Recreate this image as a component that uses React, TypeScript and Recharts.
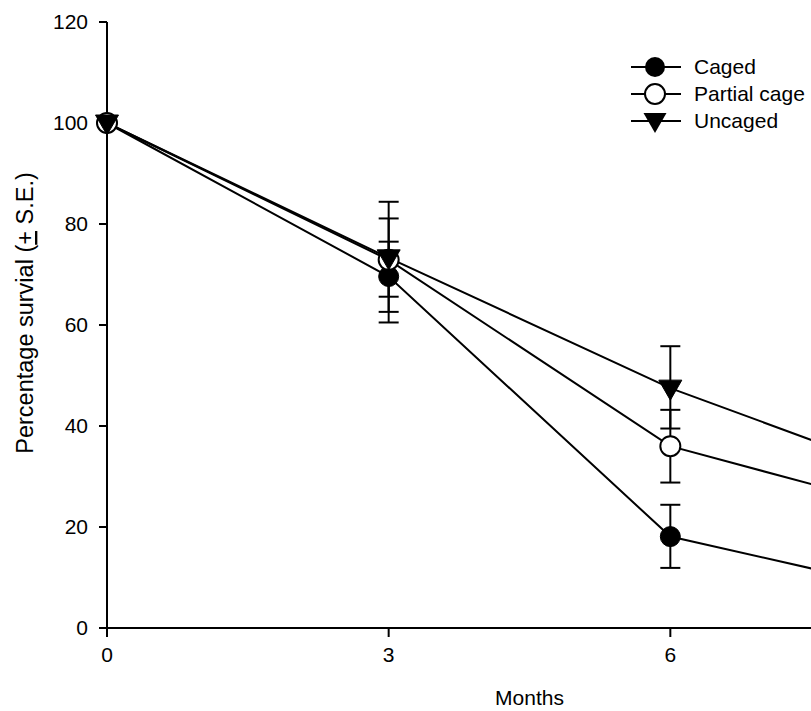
import { LineChart, Line, XAxis, YAxis, ErrorBar } from "recharts";

const months = [0, 3, 6, 9];
const monthTicks = [0, 3, 6];
const survivalTicks = [0, 20, 40, 60, 80, 100, 120];

const caged = [100, 69.6, 18.1, 5.5];
const partialCage = [100, 72.9, 36, 21];
const uncaged = [100, 73.3, 47.5, 27];

// [below, above] standard errors, null where no bar is drawn
const cagedErr = [null, [9.1, 6.9], [6.2, 6.3], [4, 4]];
const partialErr = [null, [7.3, 8.2], [7.2, 7.2], [6, 6]];
const uncagedErr = [null, [10.7, 11.1], [8.0, 8.3], [7, 7]];

const data = months.map((m, i) => ({
  month: m,
  caged: caged[i],
  partial: partialCage[i],
  uncaged: uncaged[i],
  cagedErr: cagedErr[i],
  partialErr: partialErr[i],
  uncagedErr: uncagedErr[i],
}));

const FONT = "Arial, 'Liberation Sans', sans-serif";

const FilledDot = (props: any) => {
  const { cx, cy, index } = props;
  return <circle key={`c-${index}`} cx={cx} cy={cy} r={10} fill="#000" stroke="#000" strokeWidth={1} />;
};

const OpenDot = (props: any) => {
  const { cx, cy, index } = props;
  return <circle key={`p-${index}`} cx={cx} cy={cy} r={10} fill="#fff" stroke="#000" strokeWidth={2} />;
};

const TriangleDot = (props: any) => {
  const { cx, cy, index } = props;
  const pts = `${cx - 11.5},${cy - 8} ${cx + 11.5},${cy - 8} ${cx},${cy + 12}`;
  return <polygon key={`u-${index}`} points={pts} fill="#000" stroke="#000" strokeWidth={1} />;
};

const legendItems = [
  { label: "Caged", kind: "filled" },
  { label: "Partial cage", kind: "open" },
  { label: "Uncaged", kind: "tri" },
];

// legend drawn as an overlay so it does not take space from the plot
const ChartLegend = () => (
  <svg width={180} height={84} style={{ position: "absolute", left: 631, top: 54 }}>
    {legendItems.map((it, i) => {
      const y = 13 + i * 27;
      const cx = 24;
      return (
        <g key={it.label}>
          <line x1={0} y1={y} x2={50} y2={y} stroke="#000" strokeWidth={2} />
          {it.kind === "filled" && <circle cx={cx} cy={y} r={10} fill="#000" />}
          {it.kind === "open" && (
            <circle cx={cx} cy={y} r={10} fill="#fff" stroke="#000" strokeWidth={2} />
          )}
          {it.kind === "tri" && (
            <polygon
              points={`${cx - 11.5},${y - 8} ${cx + 11.5},${y - 8} ${cx},${y + 12}`}
              fill="#000"
            />
          )}
          <text x={63} y={y + 7} fontSize={21} fontFamily={FONT} fill="#000">
            {it.label}
          </text>
        </g>
      );
    })}
  </svg>
);

const YLabel = () => (
  <text
    transform="translate(33, 313) rotate(-90)"
    textAnchor="middle"
    fontSize={23.5}
    fontFamily={FONT}
    fill="#000"
  >
    Percentage survial (<tspan style={{ textDecoration: "underline" }}>+</tspan> S.E.)
  </text>
);

const App = () => {
  const tick = { fontSize: 21, fontFamily: FONT, fill: "#000" };
  return (
    <div
      style={{
        position: "fixed",
        left: 0,
        top: 0,
        width: 811,
        height: 711,
        overflow: "hidden",
        background: "#fff",
      }}
    >
      <LineChart
        width={968}
        height={711}
        data={data}
        margin={{ top: 22, right: 16, bottom: 23, left: 8 }}
      >
        <XAxis
          dataKey="month"
          type="number"
          domain={[0, 9]}
          ticks={monthTicks}
          tickSize={9}
          tickMargin={10}
          tick={tick}
          height={60}
          axisLine={{ stroke: "#000", strokeWidth: 2 }}
          tickLine={{ stroke: "#000", strokeWidth: 2 }}
          label={{
            value: "Months",
            position: "bottom",
            offset: 2,
            style: { fontSize: 21, fontFamily: FONT, fill: "#000" },
          }}
        />
        <YAxis
          type="number"
          domain={[0, 120]}
          ticks={survivalTicks}
          width={99}
          tickSize={8}
          tickMargin={11}
          tick={tick}
          axisLine={{ stroke: "#000", strokeWidth: 2 }}
          tickLine={{ stroke: "#000", strokeWidth: 2 }}
          label={{ content: () => <YLabel /> }}
        />
        <Line
          dataKey="caged"
          stroke="#000"
          strokeWidth={2}
          dot={FilledDot}
          activeDot={false}
          isAnimationActive={false}
        >
          <ErrorBar dataKey="cagedErr" direction="y" width={10} stroke="#000" strokeWidth={2} />
        </Line>
        <Line
          dataKey="partial"
          stroke="#000"
          strokeWidth={2}
          dot={OpenDot}
          activeDot={false}
          isAnimationActive={false}
        >
          <ErrorBar dataKey="partialErr" direction="y" width={10} stroke="#000" strokeWidth={2} />
        </Line>
        <Line
          dataKey="uncaged"
          stroke="#000"
          strokeWidth={2}
          dot={TriangleDot}
          activeDot={false}
          isAnimationActive={false}
        >
          <ErrorBar dataKey="uncagedErr" direction="y" width={10} stroke="#000" strokeWidth={2} />
        </Line>
      </LineChart>
      <ChartLegend />
    </div>
  );
};

export default App;
